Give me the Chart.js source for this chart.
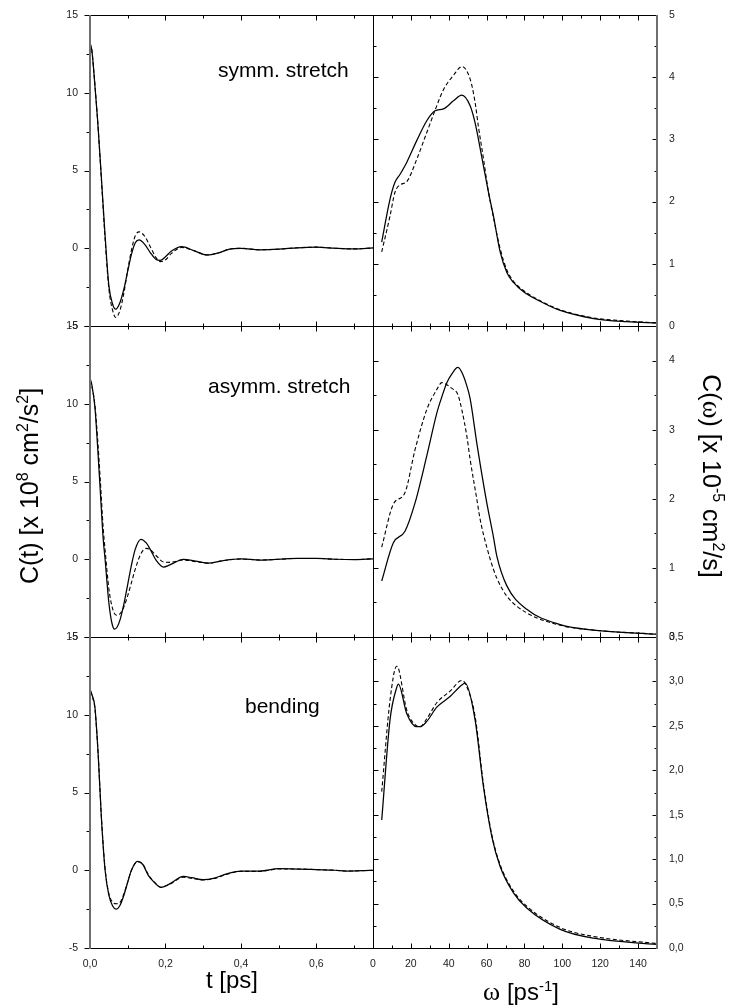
<!DOCTYPE html>
<html>
<head>
<meta charset="utf-8">
<script src="https://cdn.jsdelivr.net/npm/chart.js@4.4.1/dist/chart.umd.min.js"></script>
<style>
  body { margin: 0; background: #fff; width: 733px; height: 1008px; position: relative; overflow: hidden; }
  canvas { position: absolute; }
</style>
</head>
<body>
<canvas id="ctSymm" width="380" height="340" style="left:0;top:0"></canvas>
<canvas id="ctAsym" width="380" height="332" style="left:0;top:316px"></canvas>
<canvas id="ctBend" width="380" height="381" style="left:0;top:627px"></canvas>
<canvas id="cwSymm" width="368" height="340" style="left:365px;top:0"></canvas>
<canvas id="cwAsym" width="368" height="332" style="left:365px;top:316px"></canvas>
<canvas id="cwBend" width="368" height="381" style="left:365px;top:627px"></canvas>
<script>
// ---- C(t), time in ps ----
const tSymm = [0, 0.005, 0.01, 0.02, 0.03, 0.04, 0.05, 0.06, 0.068, 0.08, 0.09, 0.10, 0.11, 0.12, 0.13, 0.145, 0.16, 0.175, 0.186, 0.2, 0.215, 0.243, 0.275, 0.31, 0.34, 0.37, 0.4, 0.45, 0.5, 0.55, 0.6, 0.65, 0.7, 0.75];
const ctSymmSolid = [13.2, 12.7, 11.4, 8.3, 4.6, 0.8, -2.4, -3.6, -3.92, -3.45, -2.6, -1.46, -0.38, 0.35, 0.54, 0.25, -0.29, -0.72, -0.78, -0.55, -0.2, 0.1, -0.15, -0.43, -0.3, -0.05, 0.0, -0.1, -0.06, 0.03, 0.07, 0.0, -0.04, 0.02];
const ctSymmDashed = [13.2, 12.7, 11.4, 8.3, 4.5, 0.6, -2.6, -4.0, -4.45, -3.95, -2.85, -1.4, -0.1, 0.8, 1.05, 0.77, 0.08, -0.6, -0.86, -0.75, -0.35, 0.05, -0.15, -0.43, -0.3, -0.05, 0.0, -0.1, -0.06, 0.03, 0.07, 0.0, -0.04, 0.02];

const tAsym = [0, 0.005, 0.013, 0.02, 0.027, 0.035, 0.04, 0.05, 0.058, 0.065, 0.072, 0.08, 0.09, 0.10, 0.11, 0.12, 0.135, 0.149, 0.16, 0.175, 0.195, 0.21, 0.248, 0.28, 0.314, 0.35, 0.4, 0.45, 0.5, 0.55, 0.6, 0.65, 0.7, 0.75];
const ctAsymSolid = [11.65, 11.2, 9.8, 7.3, 4.5, 1.3, 0.0, -2.8, -4.1, -4.5, -4.36, -3.87, -2.86, -1.61, -0.36, 0.65, 1.28, 1.05, 0.62, -0.06, -0.5, -0.38, 0.0, -0.12, -0.25, -0.1, 0.02, -0.05, 0.0, 0.05, 0.05, 0.0, -0.02, 0.03];
const ctAsymDashed = [11.5, 11.1, 9.9, 7.8, 5.2, 2.0, 0.6, -1.9, -3.0, -3.5, -3.6, -3.49, -3.05, -2.34, -1.49, -0.63, 0.36, 0.7, 0.6, 0.24, -0.18, -0.2, -0.05, -0.15, -0.25, -0.1, 0.02, -0.05, 0.0, 0.05, 0.05, 0.0, -0.02, 0.03];

const tBend = [0, 0.005, 0.013, 0.022, 0.03, 0.04, 0.05, 0.06, 0.069, 0.08, 0.09, 0.10, 0.11, 0.126, 0.14, 0.155, 0.17, 0.188, 0.21, 0.248, 0.27, 0.30, 0.33, 0.36, 0.4, 0.45, 0.5, 0.55, 0.6, 0.65, 0.68, 0.72, 0.75];
const ctBendSolid = [11.65, 11.3, 10.5, 7.3, 3.46, 0.0, -1.6, -2.3, -2.5, -2.23, -1.59, -0.76, 0.01, 0.57, 0.37, -0.35, -0.77, -1.1, -0.89, -0.4, -0.48, -0.61, -0.5, -0.25, -0.05, -0.05, 0.1, 0.08, 0.04, 0.0, -0.05, -0.03, 0.0];
const ctBendDashed = [11.5, 11.2, 10.4, 7.3, 3.5, 0.1, -1.5, -2.05, -2.15, -2.05, -1.5, -0.75, 0.0, 0.55, 0.38, -0.3, -0.75, -1.1, -0.92, -0.45, -0.52, -0.63, -0.53, -0.28, -0.07, -0.07, 0.08, 0.08, 0.04, 0.0, -0.05, -0.03, 0.0];

// ---- C(w), frequency in 1/ps ----
const wSymm = [4.6, 9, 11.6, 14.3, 17.8, 23.1, 28.4, 32.8, 37.2, 42.5, 46.9, 51.3, 53.9, 55.7, 58.3, 61, 63.6, 67.1, 70.7, 74.2, 79.5, 90, 98.9, 116.5, 134, 150];
const cwSymmSolid = [1.35, 2.04, 2.31, 2.44, 2.63, 2.98, 3.3, 3.46, 3.49, 3.62, 3.71, 3.54, 3.27, 3.0, 2.58, 2.15, 1.77, 1.2, 0.86, 0.7, 0.55, 0.37, 0.25, 0.12, 0.07, 0.05];
const cwSymmDashed = [1.19, 1.77, 2.15, 2.27, 2.32, 2.68, 3.11, 3.47, 3.8, 4.03, 4.17, 3.97, 3.6, 3.2, 2.7, 2.15, 1.75, 1.25, 0.9, 0.72, 0.57, 0.38, 0.26, 0.13, 0.08, 0.05];

const wAsym = [4.6, 10.7, 16.9, 22.2, 28.4, 33.7, 36.3, 39, 41.5, 44.8, 46.9, 49.6, 51.3, 54.8, 56.6, 60.1, 63.6, 65.4, 70.7, 81.2, 98.9, 116.5, 150];
const cwAsymSolid = [0.81, 1.36, 1.53, 1.94, 2.62, 3.24, 3.47, 3.68, 3.8, 3.9, 3.83, 3.63, 3.45, 2.81, 2.5, 1.94, 1.45, 1.17, 0.74, 0.4, 0.18, 0.1, 0.04];
const cwAsymDashed = [1.3, 1.92, 2.09, 2.71, 3.29, 3.58, 3.68, 3.65, 3.6, 3.51, 3.29, 2.9, 2.57, 2.0, 1.7, 1.3, 0.98, 0.85, 0.59, 0.35, 0.17, 0.1, 0.04];

const wBend = [4.6, 9, 12.5, 13.4, 17.8, 23.1, 24.8, 28.4, 33.7, 40.7, 46.9, 48.6, 53.9, 58.3, 62.7, 67.1, 74.2, 81.2, 98.9, 116.5, 150];
const cwBendSolid = [1.44, 2.57, 2.93, 2.97, 2.64, 2.49, 2.49, 2.55, 2.71, 2.83, 2.96, 2.98, 2.57, 1.82, 1.26, 0.92, 0.62, 0.45, 0.21, 0.11, 0.04];
const cwBendDashed = [1.76, 2.79, 3.17, 3.15, 2.68, 2.5, 2.49, 2.58, 2.76, 2.89, 3.01, 2.98, 2.61, 1.85, 1.28, 0.94, 0.64, 0.47, 0.23, 0.13, 0.05];

const modeLabels = ['symm. stretch', 'asymm. stretch', 'bending'];

const SANS = '"Liberation Sans", Arial, sans-serif';
const SERIF = '"Liberation Serif", "Times New Roman", serif';
const tickFont = { family: SANS, size: 10.5 };

const comma = d => v => v.toFixed(d).replace('.', ',');
const whole = v => String(Math.round(v));

function pts(xs, ys) {
    return xs.map((x, i) => ({ x: x, y: ys[i] }));
}

// box, inward/outward tick marks (major + minor)
function frame(f) {
    return {
        id: 'frame',
        afterDatasetsDraw(chart) {
            const { ctx, chartArea: a, scales: { x, y } } = chart;
            const L = Math.floor(a.left) + 0.5, R = Math.floor(a.right) + 0.5;
            const T = Math.floor(a.top) + 0.5, B = Math.floor(a.bottom) + 0.5;
            ctx.save();
            ctx.strokeStyle = '#000';
            ctx.lineWidth = 1;
            ctx.beginPath();
            const nx = Math.round((x.max - x.min) / f.xMinor);
            for (let i = 0; i <= nx; i++) {
                const px = Math.round(x.getPixelForValue(x.min + i * f.xMinor)) + 0.5;
                const len = i % 2 === 0 ? 5 : 3;
                ctx.moveTo(px, T); ctx.lineTo(px, T + len);
                ctx.moveTo(px, B); ctx.lineTo(px, B - len);
            }
            const ny = Math.round((y.max - y.min) / f.yMinor);
            for (let i = 0; i <= ny; i++) {
                const py = Math.round(y.getPixelForValue(y.min + i * f.yMinor)) + 0.5;
                const len = i % 2 === 0 ? 5 : 3;
                if (f.side === 'left') {
                    ctx.moveTo(L - 1, py); ctx.lineTo(L - 1 - len, py);
                } else {
                    ctx.moveTo(L, py); ctx.lineTo(L + len, py);
                    ctx.moveTo(R, py); ctx.lineTo(R - len, py);
                }
            }
            ctx.moveTo(a.left, T); ctx.lineTo(a.right + 1, T);
            ctx.moveTo(a.left, B); ctx.lineTo(a.right + 1, B);
            if (f.side === 'left') {
                ctx.moveTo(R, a.top); ctx.lineTo(R, a.bottom + 1);
            } else {
                ctx.moveTo(L, a.top); ctx.lineTo(L, a.bottom + 1);
            }
            ctx.stroke();
            // heavier grey outer axis
            ctx.beginPath();
            ctx.strokeStyle = '#6e6e6e';
            ctx.lineWidth = 2;
            const ox = f.side === 'left' ? Math.round(a.left) : Math.round(a.right);
            ctx.moveTo(ox, a.top); ctx.lineTo(ox, a.bottom + 1);
            ctx.stroke();
            ctx.restore();
        }
    };
}

// free text pieces (superscripts, mixed fonts)
function notes(items) {
    return {
        id: 'notes',
        afterDraw(chart) {
            const ctx = chart.ctx;
            items.forEach(n => {
                ctx.save();
                ctx.translate(n.x, n.y);
                ctx.rotate(n.angle || 0);
                ctx.fillStyle = '#000';
                ctx.textBaseline = 'alphabetic';
                let w = 0;
                n.parts.forEach(p => { ctx.font = p[1]; w += ctx.measureText(p[0]).width; });
                let cx = n.align === 'left' ? 0 : -w / 2;
                n.parts.forEach(p => {
                    ctx.font = p[1];
                    ctx.fillText(p[0], cx, -(p[2] || 0));
                    cx += ctx.measureText(p[0]).width;
                });
                ctx.restore();
            });
        }
    };
}

function panel(id, p) {
    return new Chart(document.getElementById(id), {
        type: 'line',
        data: {
            datasets: [
                { data: pts(p.x, p.solid), borderColor: '#000', borderWidth: 1.25 },
                { data: pts(p.x, p.dashed), borderColor: '#000', borderWidth: 1.1, borderDash: [4, 2.5] }
            ]
        },
        options: {
            responsive: false,
            animation: false,
            layout: { padding: p.pad },
            elements: {
                point: { radius: 0 },
                line: { cubicInterpolationMode: 'monotone' }
            },
            plugins: { legend: { display: false }, tooltip: { enabled: false } },
            scales: {
                x: {
                    type: 'linear',
                    min: p.xMin,
                    max: p.xMax,
                    display: p.showX,
                    afterFit: s => {
                        s.height = p.showX ? 30 : 0;
                        s.paddingLeft = 0;
                        s.paddingRight = 0;
                    },
                    grid: { display: false },
                    border: { display: false },
                    ticks: {
                        stepSize: p.xStep, includeBounds: false, autoSkip: false, maxRotation: 0,
                        padding: 2, color: '#222', font: tickFont, callback: p.xFmt
                    }
                },
                y: {
                    type: 'linear',
                    position: p.side,
                    min: p.yMin,
                    max: p.yMax,
                    afterFit: s => {
                        s.width = 40;
                        s.paddingTop = 0;
                        s.paddingBottom = 0;
                    },
                    grid: { display: false },
                    border: { display: false },
                    ticks: {
                        stepSize: p.yStep, includeBounds: false, autoSkip: false,
                        padding: 4, color: '#222', font: tickFont, callback: p.yFmt
                    }
                }
            }
        },
        plugins: [frame({ side: p.side, xMinor: p.xStep / 2, yMinor: p.yStep / 2 }), notes(p.notes || [])]
    });
}

const tAxis = { xMin: 0, xMax: 0.75, xStep: 0.2, xFmt: comma(1), yMin: -5, yMax: 15, yStep: 5, yFmt: whole, side: 'left' };
const wAxis = { xMin: 0, xMax: 150, xStep: 20, xFmt: whole, side: 'right' };

panel('ctSymm', Object.assign({}, tAxis, {
    x: tSymm, solid: ctSymmSolid, dashed: ctSymmDashed, showX: false,
    pad: { top: 15, left: 50, right: 7, bottom: 14 },
    notes: [{ x: 218, y: 77, align: 'left', parts: [[modeLabels[0], '21px ' + SANS]] }]
}));

panel('ctAsym', Object.assign({}, tAxis, {
    x: tAsym, solid: ctAsymSolid, dashed: ctAsymDashed, showX: false,
    pad: { top: 10, left: 50, right: 7, bottom: 11 },
    notes: [
        { x: 208, y: 77, align: 'left', parts: [[modeLabels[1], '21px ' + SANS]] },
        {
            x: 38, y: 170, angle: -Math.PI / 2, parts: [
                ['C(t) [x 10', '25px ' + SANS], ['8', '16px ' + SANS, 10], [' cm', '25px ' + SANS],
                ['2', '16px ' + SANS, 10], ['/s', '25px ' + SANS], ['2', '16px ' + SANS, 10], [']', '25px ' + SANS]
            ]
        }
    ]
}));

panel('ctBend', Object.assign({}, tAxis, {
    x: tBend, solid: ctBendSolid, dashed: ctBendDashed, showX: true,
    pad: { top: 10, left: 50, right: 7, bottom: 30 },
    notes: [
        { x: 245, y: 86, align: 'left', parts: [[modeLabels[2], '21px ' + SANS]] },
        { x: 232, y: 361, parts: [['t [ps]', '24px ' + SANS]] }
    ]
}));

panel('cwSymm', Object.assign({}, wAxis, {
    x: wSymm, solid: cwSymmSolid, dashed: cwSymmDashed, showX: false,
    yMin: 0, yMax: 5, yStep: 1, yFmt: whole,
    pad: { top: 15, left: 8, right: 36, bottom: 14 }
}));

panel('cwAsym', Object.assign({}, wAxis, {
    x: wAsym, solid: cwAsymSolid, dashed: cwAsymDashed, showX: false,
    yMin: 0, yMax: 4.5, yStep: 1, yFmt: whole,
    pad: { top: 10, left: 8, right: 36, bottom: 11 },
    notes: [{
        x: 338, y: 160, angle: Math.PI / 2, parts: [
            ['C(', '25px ' + SANS], ['\u03c9', '27px ' + SERIF], [') [x 10', '25px ' + SANS],
            ['-5', '16px ' + SANS, 10], [' cm', '25px ' + SANS], ['2', '16px ' + SANS, 10], ['/s]', '25px ' + SANS]
        ]
    }]
}));

panel('cwBend', Object.assign({}, wAxis, {
    x: wBend, solid: cwBendSolid, dashed: cwBendDashed, showX: true,
    yMin: 0, yMax: 3.5, yStep: 0.5, yFmt: comma(1),
    pad: { top: 10, left: 8, right: 36, bottom: 30 },
    notes: [{
        x: 156, y: 373, parts: [
            ['\u03c9', '26px ' + SERIF], [' [ps', '24px ' + SANS], ['-1', '15px ' + SANS, 9], [']', '24px ' + SANS]
        ]
    }]
}));
</script>
</body>
</html>
